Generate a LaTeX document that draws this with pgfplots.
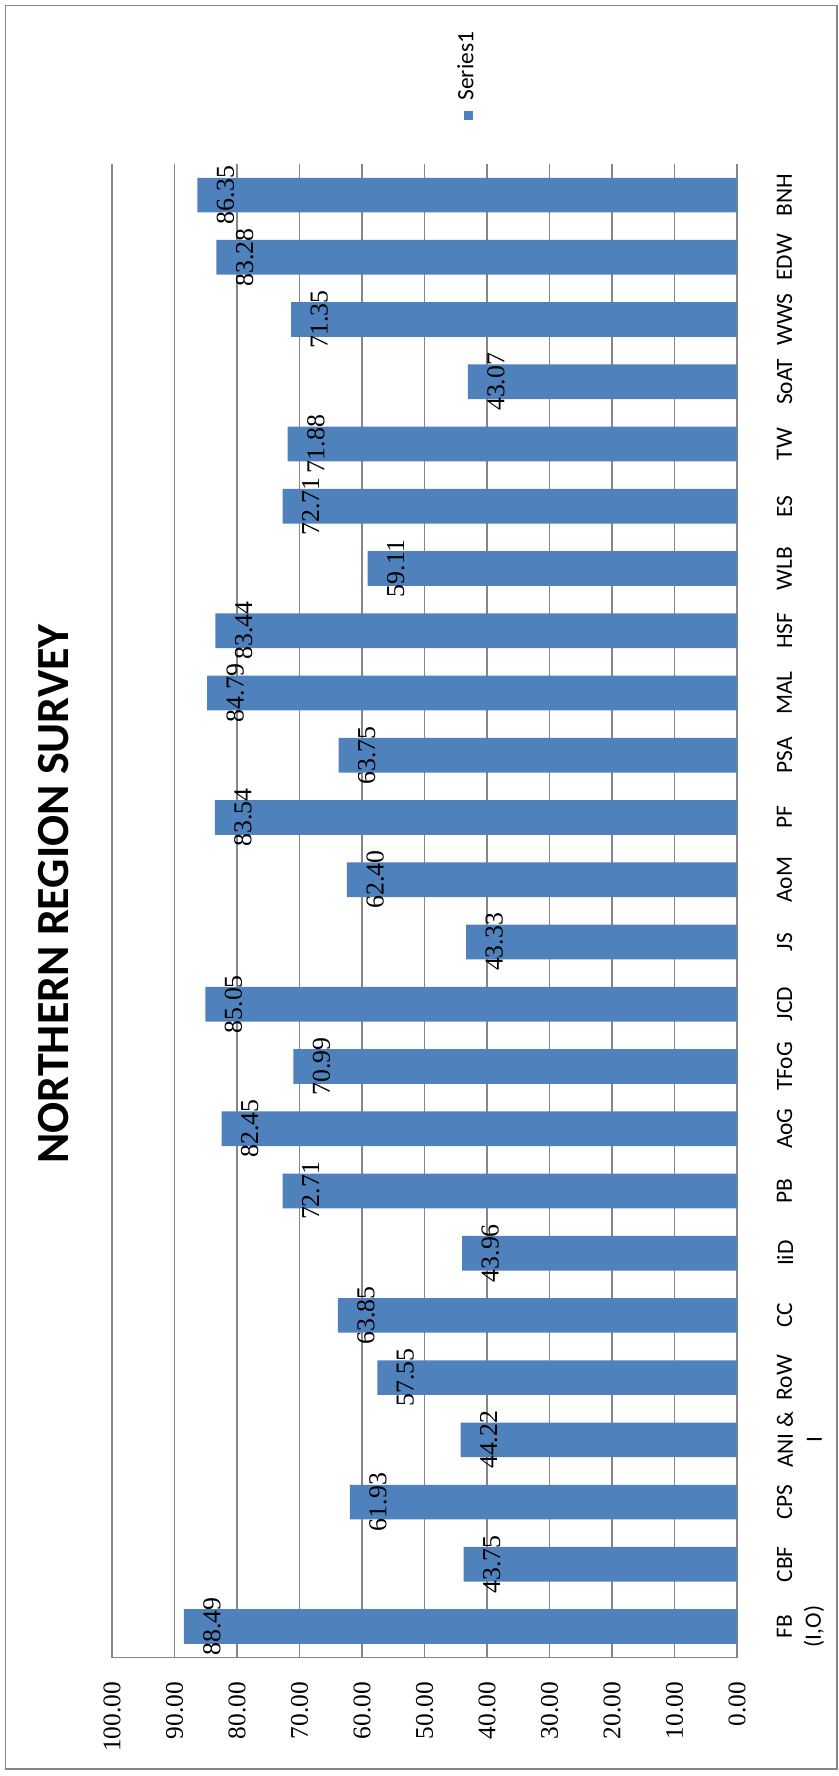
\documentclass[border=0pt]{standalone}
\usepackage{pgfplots}
\pgfplotsset{compat=1.18}
\usepackage{graphicx}
\usepackage{fontspec}
\setmainfont{Carlito}
\newfontfamily\numfont{Liberation Serif}
\definecolor{barblue}{RGB}{79,129,189}
\definecolor{gridgray}{RGB}{134,134,134}
\begin{document}
\begin{tikzpicture}
\useasboundingbox (0,0) rectangle (419.5bp,888bp);
\draw[draw=gridgray, line width=0.75bp] (2.75bp,3.5bp) rectangle (418.5bp,885.25bp);
\node[rotate=90, inner sep=0pt, font=\bfseries\fontsize{23bp}{28bp}\selectfont] at (26.75bp,441bp) {NORTHERN REGION SURVEY};
\begin{axis}[
  at={(212.25bp,432.575bp)}, anchor=center,
  scale only axis, width=312.5bp, height=746.85bp,
  xbar, bar width=17.35bp,
  x dir=reverse,
  xmin=0, xmax=100,
  ymin=-0.5, ymax=23.5,
  xtick={0,10,...,100},
  ytick={0,...,23},
  yticklabels={{FB\\(I,O)},CBF,CPS,{ANI \&\\I},RoW,CC,IiD,PB,AoG,TFoG,JCD,JS,AoM,PF,PSA,MAL,HSF,WLB,ES,TW,SoAT,WWS,EDW,BNH},
  yticklabel pos=right,
  xmajorgrids,
  major grid style={draw=gridgray, line width=0.75bp},
  axis line style={draw=none},
  tick style={draw=none},
  /pgf/number format/assume math mode=true,
  xticklabel={\numfont\pgfmathprintnumber[fixed,fixed zerofill,precision=2]{\tick}},
  xticklabel style={font=\fontsize{12.7bp}{15bp}\selectfont, yshift=-12bp, rotate=90, anchor=east, inner sep=0pt},
  yticklabel style={font=\fontsize{11.7bp}{14.5bp}\selectfont, xshift=15.5bp, rotate=90, anchor=north, inner sep=0pt, align=center},
  nodes near coords={\numfont\pgfmathprintnumber[fixed,fixed zerofill,precision=2]{\pgfplotspointmeta}},
  point meta=x,
  every node near coord/.append style={font=\fontsize{12.9bp}{15bp}\selectfont, xshift=9.5bp, rotate=90, anchor=north, inner sep=0pt, text=black},
  legend style={draw=none, fill=none, at={(0.5656,1.058)}, anchor=center, font=\fontsize{11.7bp}{14bp}\selectfont, inner sep=0pt, column sep=0pt},
]
\addplot[fill=barblue, draw=none, legend image code/.code={}] coordinates {
(88.49,0) (43.75,1) (61.93,2) (44.22,3) (57.55,4) (63.85,5) (43.96,6) (72.71,7)
(82.45,8) (70.99,9) (85.05,10) (43.33,11) (62.40,12) (83.54,13) (63.75,14) (84.79,15)
(83.44,16) (59.11,17) (72.71,18) (71.88,19) (43.07,20) (71.35,21) (83.28,22) (86.35,23)
};
\addlegendentry{\rotatebox{90}{\textcolor{barblue}{\rule{4.6bp}{4.6bp}}\hspace{5bp}Series1}}
\draw[draw=gridgray, line width=0.75bp] (axis cs:100,-0.5) -- (axis cs:0,-0.5);
\end{axis}
\end{tikzpicture}
\end{document}
